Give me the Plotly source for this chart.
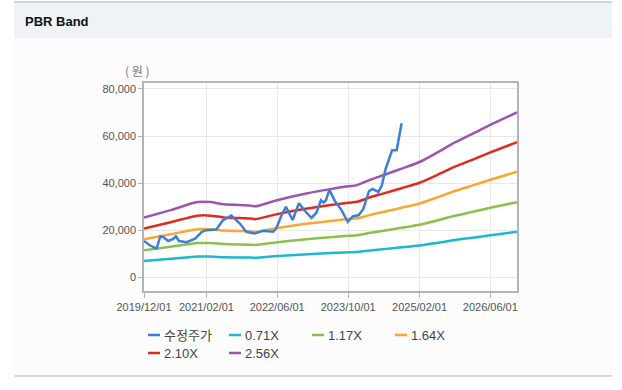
import plotly.graph_objects as go

# ---------------- data ----------------
band_dates = ["2019-12-01", "2020-06-01", "2020-12-01", "2021-03-01", "2021-06-01",
              "2021-12-01", "2022-01-01", "2022-06-01", "2022-12-01", "2023-06-01",
              "2023-10-01", "2023-12-01", "2024-03-01", "2024-06-01", "2024-10-01",
              "2025-02-01", "2025-06-01", "2025-10-01", "2026-02-01", "2026-06-01",
              "2026-12-01"]
band_071 = [7050, 7930, 8880, 8880, 8630, 8460, 8380, 9100, 9820, 10400, 10730,
            10870, 11510, 12060, 12810, 13590, 14700, 15890, 16920, 17940, 19410]
band_117 = [11610, 13070, 14630, 14630, 14210, 13940, 13800, 14990, 16180, 17140, 17690,
            17920, 18970, 19880, 21120, 22400, 24220, 26190, 27880, 29570, 31990]
band_164 = [16270, 18320, 20500, 20500, 19920, 19540, 19350, 21010, 22680, 24020, 24790,
            25110, 26590, 27870, 29600, 31390, 33950, 36710, 39080, 41450, 44840]
band_210 = [20840, 23460, 26250, 26250, 25510, 25020, 24770, 26910, 29040, 30760, 31750,
            32160, 34040, 35680, 37900, 40200, 43480, 47000, 50040, 53070, 57420]
band_256 = [25400, 28600, 32000, 32000, 31100, 30500, 30200, 32800, 35400, 37500, 38700,
            39200, 41500, 43500, 46200, 49000, 53000, 57300, 61000, 64700, 70000]

price_dates = ["2019-12-01", "2020-01-10", "2020-02-25", "2020-03-22", "2020-04-10",
               "2020-05-15", "2020-06-18", "2020-07-06", "2020-07-28", "2020-09-18",
               "2020-11-15", "2021-01-01", "2021-02-01", "2021-04-10", "2021-05-25",
               "2021-07-22", "2021-09-18", "2021-11-01", "2021-12-28", "2022-02-25",
               "2022-05-04", "2022-05-25", "2022-07-01", "2022-07-31", "2022-09-15",
               "2022-10-28", "2022-12-12", "2023-01-22", "2023-02-25", "2023-03-28",
               "2023-04-15", "2023-05-01", "2023-05-25", "2023-07-01", "2023-08-12",
               "2023-09-28", "2023-11-01", "2023-12-12", "2024-01-12", "2024-02-20",
               "2024-03-15", "2024-04-25", "2024-05-18", "2024-06-12", "2024-07-10",
               "2024-07-28", "2024-08-28", "2024-09-12", "2024-10-01"]
price = [15500, 13700, 12300, 17500, 17200, 15500, 16400, 17500, 15500, 15000,
         16500, 19400, 20100, 20400, 24300, 26300, 22900, 19400, 18700, 19800,
         19400, 20800, 26400, 30000, 24400, 31500, 28000, 25300, 27500, 32800,
         31800, 32800, 37200, 32500, 29000, 23600, 25900, 26500, 29000, 36600,
         37600, 36300, 39000, 45800, 50800, 54000, 54000, 58500, 65400]

series_names = ["수정주가", "0.71X", "1.17X", "1.64X", "2.10X", "2.56X"]
series_colors = ["#3b7fd8", "#1bb8ce", "#8dc04b", "#fba72f", "#e2291f", "#9c54b0"]

x_tick_vals = ["2019-12-01", "2021-02-01", "2022-06-01", "2023-10-01", "2025-02-01", "2026-06-01"]
x_tick_text = ["2019/12/01", "2021/02/01", "2022/06/01", "2023/10/01", "2025/02/01", "2026/06/01"]
y_tick_vals = [0, 20000, 40000, 60000, 80000]

# ---------------- layout geometry (pixels) ----------------
W, H = 622, 390
PL, PR, PT, PB = 144, 517, 83, 291


def px(x):
    return (x - PL) / (PR - PL)


def py(y):
    return (PB - y) / (PB - PT)


fig = go.Figure()

bands = [band_071, band_117, band_164, band_210, band_256]
for name, color, vals in zip(series_names[1:], series_colors[1:], bands):
    fig.add_trace(go.Scatter(x=band_dates, y=vals, mode="lines", name=name,
                             line=dict(color=color, width=2.5, shape="spline", smoothing=0.7),
                             showlegend=False))

fig.add_trace(go.Scatter(x=price_dates, y=price, mode="lines", name=series_names[0],
                         line=dict(color=series_colors[0], width=2.5), showlegend=False))

shapes = [
    # header band
    dict(type="rect", xref="paper", yref="paper", x0=px(14), x1=px(612), y0=py(38), y1=py(2),
         fillcolor="#eff3f8", line=dict(width=0), layer="below"),
    dict(type="line", xref="paper", yref="paper", x0=px(14), x1=px(612), y0=py(2), y1=py(2),
         line=dict(color="#c8c8c8", width=1.5), layer="below"),
    # body
    dict(type="rect", xref="paper", yref="paper", x0=px(14), x1=px(612), y0=py(376), y1=py(38),
         fillcolor="#fcfcfc", line=dict(width=0), layer="below"),
    dict(type="line", xref="paper", yref="paper", x0=px(14), x1=px(612), y0=py(376), y1=py(376),
         line=dict(color="#cccccc", width=1.5), layer="below"),
    # plot area
    dict(type="rect", xref="paper", yref="paper", x0=0, x1=1, y0=0, y1=1,
         fillcolor="#ffffff", line=dict(width=0), layer="below"),
]

annotations = [
    dict(text="<b>PBR Band</b>", xref="paper", yref="paper", x=px(23), y=py(22),
         xanchor="left", yanchor="middle", showarrow=False,
         font=dict(family="Liberation Sans, Arial, sans-serif", size=13, color="#111111")),
    dict(text="( 원 )", xref="paper", yref="paper", x=px(137), y=py(70),
         xanchor="center", yanchor="middle", showarrow=False,
         font=dict(family="Noto Sans CJK KR, sans-serif", size=12, color="#777777")),
]

# manual legend
legend_pos = [(148, 335), (229, 335), (312, 335), (395, 335), (148, 353), (229, 353)]
for (lx, ly), name, color in zip(legend_pos, series_names, series_colors):
    shapes.append(dict(type="line", xref="paper", yref="paper", x0=px(lx), x1=px(lx + 12),
                       y0=py(ly), y1=py(ly), line=dict(color=color, width=2.5)))
    annotations.append(dict(text=name, xref="paper", yref="paper", x=px(lx + 14), y=py(ly),
                            xanchor="left", yanchor="middle", showarrow=False,
                            font=dict(family="Liberation Sans, Noto Sans CJK KR, sans-serif",
                                      size=13, color="#444444")))

fig.update_layout(
    width=W, height=H,
    margin=dict(l=PL, r=W - PR, t=PT, b=H - PB, pad=0),
    paper_bgcolor="#ffffff", plot_bgcolor="#ffffff",
    shapes=shapes, annotations=annotations, showlegend=False,
    font=dict(family="Liberation Sans, Arial, sans-serif", size=11, color="#555555"),
    xaxis=dict(type="date", range=["2019-12-01", "2026-12-01"],
               tickvals=x_tick_vals, ticktext=x_tick_text,
               showgrid=True, gridcolor="#e8e8e8", gridwidth=1,
               showline=True, linecolor="#b4b4b4", linewidth=1.5, mirror=True,
               ticks="outside", ticklen=5, tickcolor="#b4b4b4",
               tickfont=dict(size=11, color="#555555"), zeroline=False),
    yaxis=dict(range=[-5700, 82500], tickvals=y_tick_vals, tickformat=",",
               showgrid=True, gridcolor="#e8e8e8", gridwidth=1,
               showline=True, linecolor="#b4b4b4", linewidth=1.5, mirror=True,
               ticks="outside", ticklen=4, tickcolor="#b4b4b4",
               tickfont=dict(size=11, color="#555555"), zeroline=False),
)

fig.write_html("out.html",
               config={"displayModeBar": False},
               post_script="document.body.style.margin='0';document.body.style.overflow='hidden';")
